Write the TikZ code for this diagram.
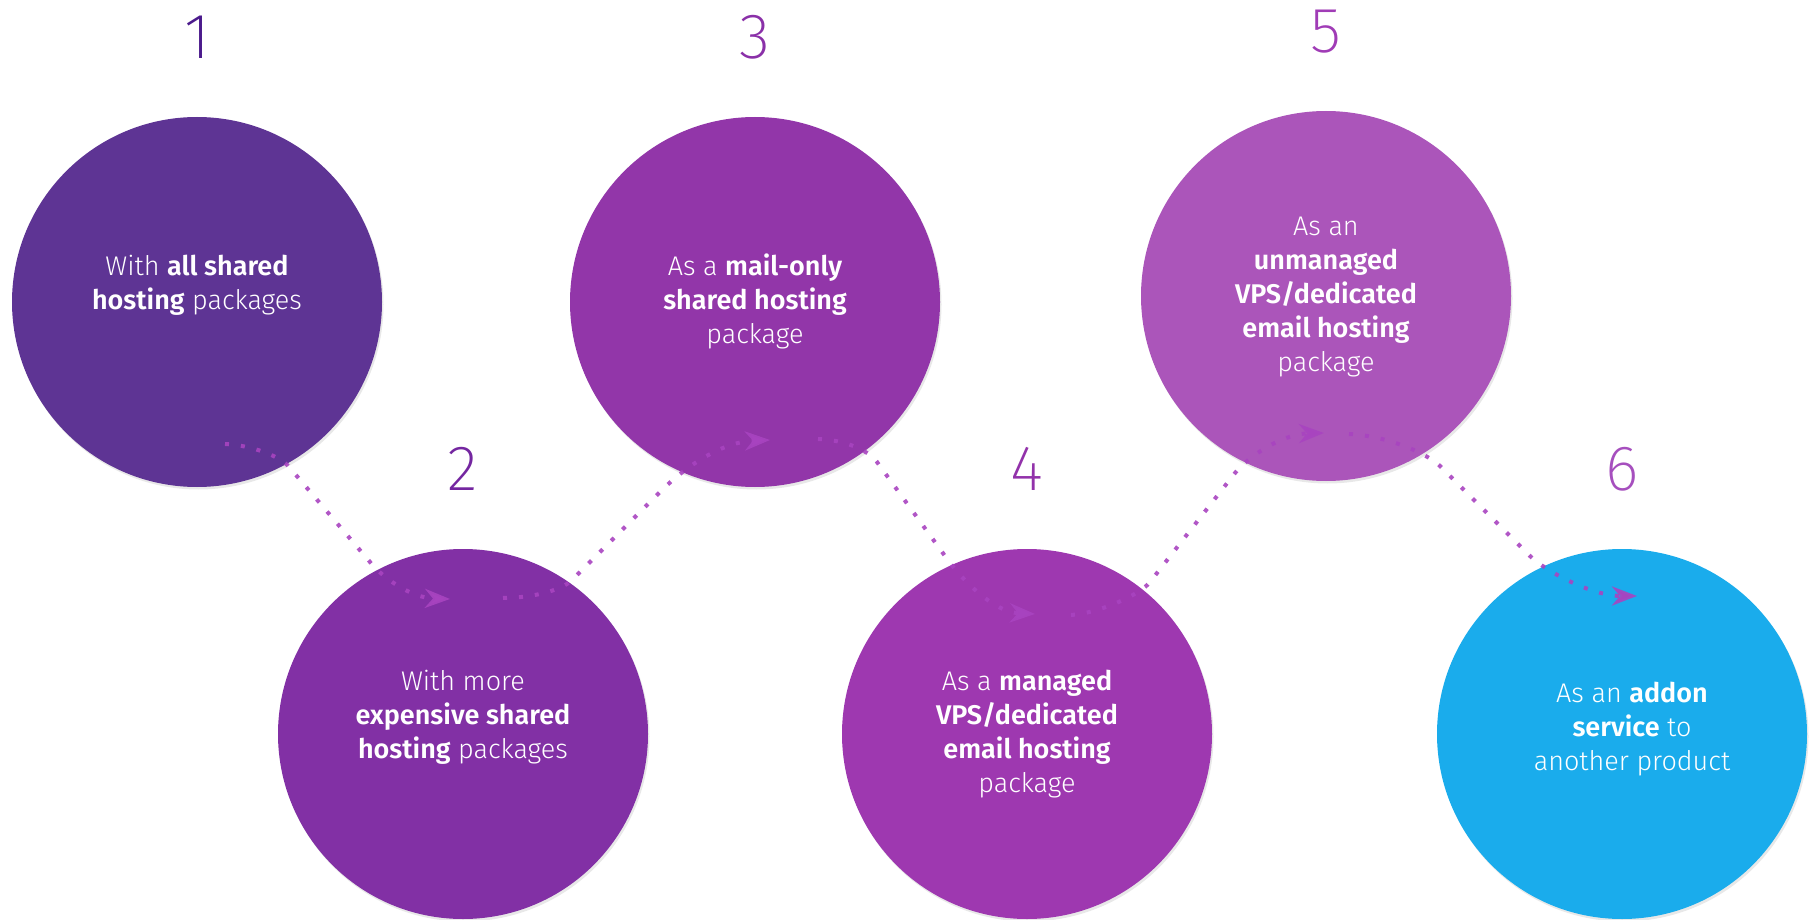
\documentclass[tikz,border=0pt]{standalone}
\usepackage{fontspec}
\setmainfont{Fira Sans Light}[BoldFont={Fira Sans SemiBold}]
\newfontfamily\numfont{Fira Sans ExtraLight}
\usetikzlibrary{arrows.meta,shadows}
\definecolor{cA}{HTML}{5E3494}
\definecolor{cB}{HTML}{8230A5}
\definecolor{cC}{HTML}{9236A9}
\definecolor{cD}{HTML}{9E38B0}
\definecolor{cE}{HTML}{AB55BA}
\definecolor{cF}{HTML}{1AACEC}
\definecolor{nA}{HTML}{4B1A8C}
\definecolor{nB}{HTML}{7426A0}
\definecolor{nC}{HTML}{8A30A8}
\definecolor{nD}{HTML}{9232AA}
\definecolor{nE}{HTML}{A03CB6}
\definecolor{nF}{HTML}{A64FBE}
\definecolor{arrc}{HTML}{A844C0}
\tikzset{
  circ/.style={circle, minimum size=370pt, inner sep=0pt,
    drop shadow={shadow xshift=1.5pt, shadow yshift=-2.5pt, opacity=0.18}},
  txt/.style={text=white, align=center, font=\fontsize{27}{34}\selectfont},
  num/.style={font=\numfont\fontsize{64}{64}\selectfont},
  flow/.style={draw=arrc, opacity=0.9, line width=4pt, dash pattern=on 4pt off 12pt,
    -{Stealth[length=25pt, width=19pt, inset=8pt]}}
}
\begin{document}
\begin{tikzpicture}[x=1pt,y=-1pt]
\useasboundingbox (0,0) rectangle (1816,920);
% circles
\node[circ, fill=cA] (c1) at (197,302) {};
\node[circ, fill=cB] (c2) at (463,734) {};
\node[circ, fill=cC] (c3) at (755,302) {};
\node[circ, fill=cD] (c4) at (1027,734) {};
\node[circ, fill=cE] (c5) at (1326,296) {};
\node[circ, fill=cF] (c6) at (1622,734) {};
% numbers
\node[num, text=nA] (n1) at (197,37) {1};
\node[num, text=nB] (n2) at (463,469) {2};
\node[num, text=nC] (n3) at (755,37) {3};
\node[num, text=nD] (n4) at (1027,469) {4};
\node[num, text=nE] (n5) at (1326,32) {5};
\node[num, text=nF] (n6) at (1622,469) {6};
% connector points
\coordinate (a1s) at (225,444);
\coordinate (a1e) at (450,599);
\coordinate (a2s) at (503,598);
\coordinate (a2e) at (770,440);
\coordinate (a3s) at (818,439);
\coordinate (a3e) at (1035,614);
\coordinate (a4s) at (1071,615);
\coordinate (a4e) at (1324,433);
\coordinate (a5s) at (1349,434);
\coordinate (a5e) at (1637,596);
% connectors
\draw[flow] (a1s) .. controls (250,445) and (281,456) .. (290,468) -- (370,562)
  .. controls (381,576) and (410,598) .. (a1e);
\draw[flow] (a2s) .. controls (530,598) and (561,591) .. (572,580) -- (662,490)
  .. controls (675,477) and (715,442) .. (a2e);
\draw[flow] (a3s) .. controls (845,440) and (868,450) .. (877,462) -- (945,556)
  .. controls (955,571) and (990,612) .. (a3e);
\draw[flow] (a4s) .. controls (1100,613) and (1141,594) .. (1150,582) -- (1235,473)
  .. controls (1246,459) and (1280,434) .. (a4e);
\draw[flow] (a5s) .. controls (1390,436) and (1429,455) .. (1440,466) -- (1530,556)
  .. controls (1543,569) and (1590,596) .. (a5e);
% texts
\node[txt] (t1) at (197,285) {With \textbf{all shared}\\\textbf{hosting} packages};
\node[txt] (t2) at (463,717) {With more\\\textbf{expensive shared}\\\textbf{hosting} packages};
\node[txt] (t3) at (755,301) {As a \textbf{mail-only}\\\textbf{shared hosting}\\package};
\node[txt] (t4) at (1027,734) {As a \textbf{managed}\\\textbf{VPS/dedicated}\\\textbf{email hosting}\\package};
\node[txt] (t5) at (1326,297) {As an\\\textbf{unmanaged}\\\textbf{VPS/dedicated}\\\textbf{email hosting}\\package};
\node[txt] (t6) at (1632,729) {As an \textbf{addon}\\\textbf{service} to\\another product};
\end{tikzpicture}
\end{document}
